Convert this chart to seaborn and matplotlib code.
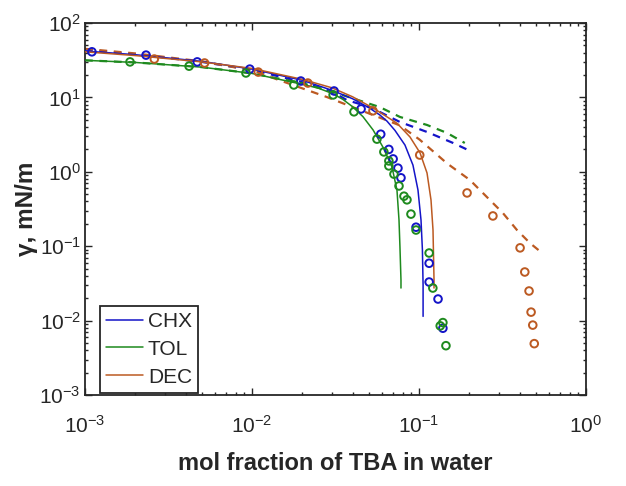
import numpy as np
import pandas as pd
import matplotlib
matplotlib.use("Agg")
import matplotlib.pyplot as plt
import seaborn as sns
from matplotlib.ticker import LogLocator, LogFormatterMathtext, NullFormatter
from matplotlib.lines import Line2D

# ---------------- data ----------------
series_names = ["CHX", "TOL", "DEC"]

# measured points (open circles)
chx_pts_x = [0.0011, 0.00232, 0.0047, 0.0097, 0.0196, 0.031, 0.045, 0.059, 0.066, 0.070, 0.0748, 0.078, 0.096, 0.115, 0.115, 0.130, 0.139]
chx_pts_y = [41, 37, 30, 24, 16.6, 12.2, 7.0, 3.2, 2.0, 1.49, 1.12, 0.83, 0.18, 0.059, 0.033, 0.0195, 0.0079]

tol_pts_x = [0.00186, 0.0042, 0.0092, 0.0178, 0.0306, 0.0408, 0.056, 0.0616, 0.066, 0.066, 0.0708, 0.0759, 0.0813, 0.0847, 0.0895, 0.096, 0.115, 0.121, 0.134, 0.139, 0.145]
tol_pts_y = [30, 26.3, 21.3, 14.7, 10.8, 6.4, 2.75, 1.85, 1.4, 1.2, 0.93, 0.645, 0.47, 0.42, 0.27, 0.165, 0.081, 0.0274, 0.0085, 0.0094, 0.0046]

dec_pts_x = [0.0026, 0.0052, 0.0109, 0.0216, 0.053, 0.101, 0.194, 0.277, 0.403, 0.43, 0.456, 0.469, 0.48, 0.49]
dec_pts_y = [32.8, 29, 21.9, 15.6, 6.6, 1.68, 0.52, 0.255, 0.095, 0.045, 0.025, 0.013, 0.0087, 0.0049]

# solid model curves
chx_fit_x = [0.001, 0.002, 0.005, 0.01, 0.02, 0.03, 0.04, 0.05, 0.0583, 0.0643, 0.0718, 0.0824, 0.092, 0.0986, 0.1028, 0.1048, 0.1058, 0.1058]
chx_fit_y = [42, 37.5, 30.5, 24, 17, 12.5, 9.6, 7.3, 5.8, 4.8, 3.6, 2.29, 1.23, 0.569, 0.225, 0.09, 0.03, 0.0114]

tol_fit_x = [0.001, 0.002, 0.005, 0.01, 0.02, 0.025, 0.0305, 0.035, 0.04, 0.0462, 0.0531, 0.0608, 0.0689, 0.0738, 0.0759, 0.0769, 0.078, 0.078]
tol_fit_y = [31.5, 29.5, 25.5, 21, 15, 13.3, 11.2, 9.4, 7.5, 5.5, 3.65, 2.15, 1.16, 0.569, 0.225, 0.098, 0.035, 0.0274]

dec_fit_x = [0.001, 0.002, 0.005, 0.01, 0.02, 0.03, 0.04, 0.0531, 0.0738, 0.0883, 0.1014, 0.1117, 0.118, 0.1213, 0.123, 0.123]
dec_fit_y = [41, 36.5, 30, 24.5, 17.5, 13.5, 10.2, 7.2, 4.5, 2.94, 1.8, 0.964, 0.418, 0.165, 0.0352, 0.0274]

# dashed model curves
chx_dash_x = [0.001, 0.002, 0.005, 0.01, 0.02, 0.03, 0.037, 0.0509, 0.0769, 0.1117, 0.16, 0.202]
chx_dash_y = [44, 38, 30, 23.5, 16, 12, 9.2, 7.4, 4.67, 3.43, 2.44, 1.91]

tol_dash_x = [0.001, 0.002, 0.005, 0.01, 0.02, 0.03, 0.0583, 0.0769, 0.1117, 0.147, 0.188]
tol_dash_y = [31.5, 29.5, 25.5, 21, 15.5, 12, 7.4, 5.46, 4.26, 3.33, 2.44]

dec_dash_x = [0.001, 0.002, 0.005, 0.01, 0.0281, 0.053, 0.0769, 0.101, 0.147, 0.2018, 0.255, 0.318, 0.386, 0.462, 0.546]
dec_dash_y = [45, 39, 30.5, 23, 10.1, 5.8, 4.2, 2.7, 1.3, 0.776, 0.458, 0.279, 0.165, 0.110, 0.081]

colors = {"CHX": "#1414C8", "TOL": "#1E8A1E", "DEC": "#BC5A22"}

pts = {"CHX": (chx_pts_x, chx_pts_y), "TOL": (tol_pts_x, tol_pts_y), "DEC": (dec_pts_x, dec_pts_y)}
fits = {"CHX": (chx_fit_x, chx_fit_y), "TOL": (tol_fit_x, tol_fit_y), "DEC": (dec_fit_x, dec_fit_y)}
dashes = {"CHX": (chx_dash_x, chx_dash_y), "TOL": (tol_dash_x, tol_dash_y), "DEC": (dec_dash_x, dec_dash_y)}

# ---------------- style ----------------
sns.set_style("ticks")
plt.rcParams["font.family"] = ["Liberation Sans", "DejaVu Sans"]
plt.rcParams["mathtext.fontset"] = "custom"
plt.rcParams["mathtext.rm"] = "Liberation Sans"
plt.rcParams["mathtext.default"] = "regular"
plt.rcParams["axes.unicode_minus"] = False

fig = plt.figure(figsize=(6.26, 4.86), dpi=100)
ax = fig.add_axes([85 / 626, 1 - 395 / 486, 501 / 626, 372 / 486])

# dashed curves
for s in series_names:
    dx, dy = dashes[s]
    df = pd.DataFrame({"x": dx, "y": dy})
    sns.lineplot(data=df, x="x", y="y", ax=ax, color=colors[s], estimator=None, sort=False,
                 linewidth=1.6, linestyle=(0, (3.5, 3.0)), legend=False, zorder=2)

# solid curves
handles = []
for s in series_names:
    fx, fy = fits[s]
    df = pd.DataFrame({"x": fx, "y": fy})
    sns.lineplot(data=df, x="x", y="y", ax=ax, color=colors[s], estimator=None, sort=False,
                 linewidth=1.1, legend=False, zorder=3)
    handles.append(Line2D([], [], color=colors[s], linewidth=1.1, label=s))

# measured points
for s in series_names:
    px, py = pts[s]
    df = pd.DataFrame({"x": px, "y": py})
    sns.scatterplot(data=df, x="x", y="y", ax=ax, marker="o", s=30, facecolor="none",
                    edgecolor=colors[s], linewidth=1.4, legend=False, zorder=4)

ax.set_xscale("log")
ax.set_yscale("log")
ax.set_xlim(1e-3, 1)
ax.set_ylim(1e-3, 1e2)

ax.xaxis.set_major_locator(LogLocator(base=10, numticks=10))
ax.yaxis.set_major_locator(LogLocator(base=10, numticks=10))
ax.xaxis.set_minor_locator(LogLocator(base=10, subs=np.arange(2, 10), numticks=20))
ax.yaxis.set_minor_locator(LogLocator(base=10, subs=np.arange(2, 10), numticks=20))
ax.xaxis.set_major_formatter(LogFormatterMathtext())
ax.yaxis.set_major_formatter(LogFormatterMathtext())
ax.xaxis.set_minor_formatter(NullFormatter())
ax.yaxis.set_minor_formatter(NullFormatter())

ax.tick_params(which="both", direction="in", top=True, right=True, colors="#262626",
               labelcolor="#262626", labelsize=15, width=1.0)
ax.tick_params(which="major", length=5)
ax.tick_params(which="minor", length=2.5)
ax.tick_params(axis="x", which="major", pad=14)
ax.tick_params(axis="y", which="major", pad=3)
for sp in ax.spines.values():
    sp.set_visible(True)
    sp.set_linewidth(1.3)
    sp.set_color("#262626")

ax.set_xlabel("mol fraction of TBA in water", fontsize=17, fontweight="bold", color="#262626", labelpad=11)
ax.set_ylabel("γ, mN/m", fontsize=17.5, fontweight="bold", color="#262626", labelpad=1)

leg = ax.legend(handles=handles, loc="lower left", bbox_to_anchor=(0.03, 0.006), fontsize=15,
                frameon=True, fancybox=False, framealpha=1, edgecolor="#262626",
                handlelength=1.75, handletextpad=0.25, labelspacing=0.42, borderpad=0.3,
                borderaxespad=0.0)
leg.get_frame().set_linewidth(1.3)

fig.savefig("out.png", dpi=100, facecolor="white")
